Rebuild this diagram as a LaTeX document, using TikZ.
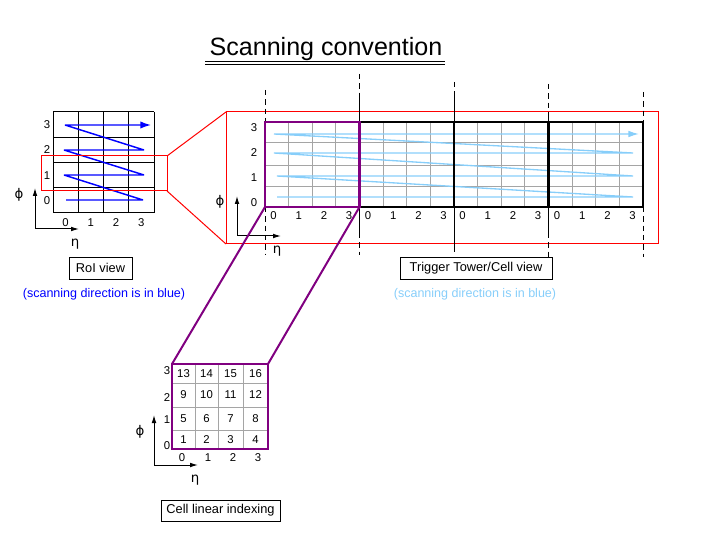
\documentclass[tikz,border=0pt]{standalone}
\usepackage{fontspec}
\setmainfont{Liberation Sans}
\newfontfamily\grkfont{DejaVu Sans}
\usetikzlibrary{arrows.meta}
\definecolor{lblue}{RGB}{135,206,250}
\definecolor{tgrey}{RGB}{165,165,165}
\definecolor{purp}{RGB}{128,0,128}
\begin{document}
\begin{tikzpicture}[x=0.75pt,y=-0.75pt,
  lab/.style={font=\fontsize{8.5}{9}\selectfont, inner sep=0pt},
  greek/.style={font=\grkfont\fontsize{10}{12}\selectfont, inner sep=0pt},
  caption/.style={draw=black, line width=0.75pt, font=\fontsize{9.6}{11}\selectfont, inner sep=0pt},
  note/.style={font=\fontsize{9.4}{11}\selectfont, inner sep=0pt},
  thin/.style={line width=0.75pt},
  gridgrey/.style={draw=tgrey, line width=0.75pt},
  thickbox/.style={line width=2.2pt},
  axis/.style={line width=0.75pt, -{Latex[length=6pt,width=3.5pt]}},
  dashv/.style={line width=0.75pt, dash pattern=on 4pt off 3pt},
  scanb/.style={blue, line width=1.1pt, line join=bevel},
  scanl/.style={lblue, line width=1pt, line join=bevel},
  zoomline/.style={purp, line width=1.5pt},
]
\useasboundingbox (0,0) rectangle (706,538);

% ---------- title ----------
\node[font=\fontsize{18.8}{22}\selectfont, anchor=base, inner sep=0pt] (title) at (326,56) {Scanning convention};
\draw[thin] (205,62) -- (445,62);
\draw[thin] (205,65) -- (445,65);

% ---------- RoI view ----------
\foreach \i in {0,...,4} {
  \draw[thin] ({53+25.25*\i},112) -- ({53+25.25*\i},213);
  \draw[thin] (53,{112+25.25*\i}) -- (154,{112+25.25*\i});
}
\foreach \r in {0,...,3} \node[lab] (rl\r) at (47,{200.4-25.25*\r}) {\r};
\foreach \c in {0,...,3} \node[lab] (rc\c) at ({65.6+25.25*\c},223) {\c};
\draw[scanb, -{Latex[length=8pt,width=5.5pt]}] (66,200) -- (143,200) -- (64,175) -- (144,175) -- (64,150) -- (144,150) -- (65,125) -- (151,125);
\draw[axis] (35,229) -- (35,188);
\draw[axis] (35,229) -- (79,229);
\node[greek] (rphi) at (19,195) {ϕ};
\node[greek] (reta) at (75,244) {η};
\node[caption, minimum width=47.25pt, minimum height=16.5pt] (roibox) at (100.5,268) {RoI view};
\node[note, text=blue] (roinote) at (104,294) {(scanning direction is in blue)};

% ---------- zoom RoI -> TT (red) ----------
\draw[red, thin] (41,156) rectangle (167,191);
\coordinate (sTop) at (167,156);
\coordinate (sBot) at (167,191);
\coordinate (bTop) at (226,112);
\coordinate (bBot) at (226,244);
\draw[red, thin] (sTop) -- (bTop);
\draw[red, thin] (sBot) -- (bBot);
\draw[red, thin] (226,112) rectangle (658,244);

% ---------- Trigger tower / cell view ----------
\foreach \t in {0,...,3} {
  \foreach \f in {23.6,47.25,70.9}
    \draw[gridgrey] ({265+94.5*\t+\f},122) -- ({265+94.5*\t+\f},207);
  \foreach \c in {0,...,3}
    \node[lab] (tc\t\c) at ({265+94.5*\t+8.5+25.2*\c},216) {\c};
}
\foreach \yy in {143,165.5,187} \draw[gridgrey] (265,\yy) -- (643,\yy);
\draw[scanl, -{Latex[length=8pt,width=5pt]}] (277,197) -- (633,197) -- (277,176) -- (633,176) -- (274,153) -- (633,153) -- (274,134) -- (639,134);

% dashed tower boundaries
\draw[dashv] (265,90) -- (265,122);
\draw[dashv] (265,207) -- (265,255);
\draw[dashv] (359.5,74) -- (359.5,97);
\draw[thin] (359.5,97) -- (359.5,233);
\draw[dashv] (359.5,233) -- (359.5,255);
\draw[dashv] (454,82) -- (454,97);
\draw[thin] (454,97) -- (454,247);
\draw[dashv] (454,247) -- (454,254);
\draw[dashv] (548.5,84) -- (548.5,112);
\draw[thin] (548.5,112) -- (548.5,233);
\draw[dashv] (548.5,233) -- (548.5,260);
\draw[dashv] (643,92) -- (643,122);
\draw[dashv] (643,207) -- (643,257);

\draw[thickbox] (359.5,122) rectangle (643,207);
\draw[thickbox] (454,122) -- (454,207);
\draw[thickbox] (548.5,122) -- (548.5,207);
\draw[thickbox, purp] (265,122) rectangle (359.5,207);

\foreach \r in {0,...,3} \node[lab] (tl\r) at (254,{203-25*\r}) {\r};
\draw[axis] (237,236) -- (237,196);
\draw[axis] (237,236) -- (281,236);
\node[greek] (tphi) at (220,202) {ϕ};
\node[greek] (teta) at (277,251) {η};
\node[caption, minimum width=114pt, minimum height=16.5pt] (ttbox) at (476,268) {Trigger Tower/Cell view};
\node[note, text=lblue] (ttnote) at (475,294) {(scanning direction is in blue)};

% ---------- Cell linear indexing ----------
\coordinate (tA) at (265,207);
\coordinate (tB) at (359.5,207);
\coordinate (cA) at (172,364);
\coordinate (cB) at (268,364);
\draw[zoomline] (tA) -- (cA);
\draw[zoomline] (tB) -- (cB);

\foreach \xx in {195,218,243} \draw[gridgrey] (\xx,364) -- (\xx,449);
\foreach \yy in {383,407,430} \draw[gridgrey] (172,\yy) -- (268,\yy);
\draw[thickbox, purp] (172,364) rectangle (268,449);

\foreach \r/\yc in {0/439.5,1/418.5,2/395,3/373.5} {
  \foreach \c/\xc in {0/183.5,1/206.5,2/230.5,3/255.5} {
    \pgfmathtruncatemacro{\num}{4*\r+\c+1}
    \node[lab] (cell\num) at (\xc,\yc) {\num};
  }
}
\foreach \r/\yc in {0/446,1/420,2/398,3/371} \node[lab] (cl\r) at (167,\yc) {\r};
\foreach \c/\xc in {0/182,1/208,2/233,3/258} \node[lab] (cc\c) at (\xc,458) {\c};
\draw[axis] (154,465) -- (154,415);
\draw[axis] (154,465) -- (198,465);
\node[greek] (cphi) at (140,432) {ϕ};
\node[greek] (ceta) at (195,480) {η};
\node[caption, minimum width=89.25pt, minimum height=15.75pt] (cellbox) at (220.5,510.5) {Cell linear indexing};
\end{tikzpicture}
\end{document}
